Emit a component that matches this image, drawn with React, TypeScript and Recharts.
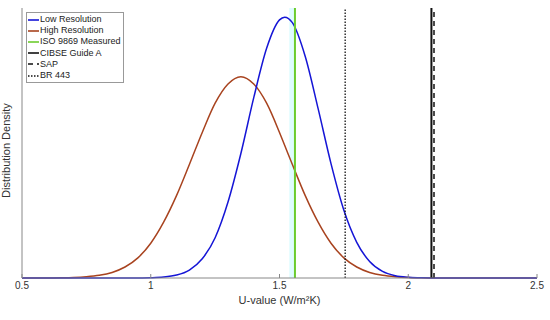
import { LineChart, Line, XAxis, YAxis, ReferenceLine, ReferenceArea } from "recharts"

// U-value sample points (W/m2K)
const uValues = [
  0.5, 0.55, 0.6, 0.65, 0.7, 0.75, 0.8, 0.85, 0.9, 0.95, 1.0, 1.05, 1.1, 1.15, 1.2, 1.25, 1.3, 1.35, 1.4,
  1.45, 1.5, 1.52, 1.55, 1.6, 1.65, 1.7, 1.75, 1.8, 1.85, 1.9, 1.95, 2.0, 2.05, 2.1, 2.15, 2.2, 2.25, 2.3, 2.35,
  2.4, 2.45, 2.5,
]
const lowRes = [
  0, 0, 0, 0, 0, 0, 0, 0, 0.0002, 0.0008, 0.003, 0.01, 0.032, 0.087, 0.21, 0.44, 0.83, 1.36, 1.97, 2.51,
  2.82, 2.85, 2.79, 2.42, 1.85, 1.25, 0.74, 0.39, 0.18, 0.072, 0.025, 0.008, 0.002, 0.0005, 0, 0, 0, 0, 0, 0, 0,
  0,
]
const highRes = [
  0, 0.0002, 0.0007, 0.002, 0.005, 0.013, 0.029, 0.061, 0.12, 0.22, 0.38, 0.61, 0.9, 1.24, 1.59, 1.91, 2.12,
  2.2, 2.12, 1.91, 1.59, 1.45, 1.24, 0.9, 0.61, 0.38, 0.22, 0.12, 0.061, 0.029, 0.013, 0.005, 0.002, 0.0007,
  0.0002, 0, 0, 0, 0, 0, 0, 0,
]
const xTicks = [0.5, 1, 1.5, 2, 2.5]

const isoMeasured = 1.56
const br443 = 1.755
const cibse = 2.09
const sap = 2.1

const legendItems = [
  { name: "Low Resolution", color: "#1515d6", dash: "" },
  { name: "High Resolution", color: "#a8431f", dash: "" },
  { name: "ISO 9869 Measured", color: "#6ccc2e", dash: "" },
  { name: "CIBSE Guide A", color: "#111", dash: "" },
  { name: "SAP", color: "#111", dash: "5 4" },
  { name: "BR 443", color: "#111", dash: "1.5 1.5" },
]

const data = uValues.map((u, i) => ({ u, low: lowRes[i], high: highRes[i] }))

const font = "'Liberation Sans', Arial, sans-serif"

export default function App() {
  return (
    <div style={{ position: "absolute", left: 0, top: 0, width: 550, height: 320, background: "#fff", fontFamily: font }}>
      <LineChart width={550} height={320} data={data} margin={{ top: 8, right: 13, left: 0, bottom: 4 }}>
        <XAxis
          dataKey="u"
          type="number"
          domain={[0.5, 2.5]}
          ticks={xTicks}
          tickFormatter={(v) => String(v)}
          stroke="#888"
          tick={{ fill: "#333", fontSize: 10, fontFamily: font }}
          tickSize={-4}
          tickMargin={8}
          height={38}
          label={{ value: "U-value (W/m²K)", position: "insideBottom", offset: 12, fill: "#333", fontSize: 11, fontFamily: font }}
        />
        <XAxis
          xAxisId="top"
          orientation="top"
          type="number"
          domain={[0.5, 2.5]}
          ticks={xTicks}
          tick={() => <g />}
          tickSize={-4}
          stroke="#888"
          height={0}
        />
        <YAxis
          type="number"
          domain={[0, 2.95]}
          tick={false}
          tickLine={false}
          stroke="#888"
          width={22}
          label={{ value: "Distribution Density", angle: -90, position: "insideLeft", offset: 6, dy: 55, fill: "#333", fontSize: 11, fontFamily: font }}
        />
        <YAxis yAxisId="right" orientation="right" tick={false} tickLine={false} stroke="#888" width={0} />
        <ReferenceArea x1={1.538} x2={1.556} fill="#dffcff" fillOpacity={1} stroke="none" />
        <Line dataKey="high" type="monotone" stroke="#a8431f" strokeWidth={1.5} dot={false} isAnimationActive={false} />
        <Line dataKey="low" type="monotone" stroke="#1515d6" strokeWidth={1.5} dot={false} isAnimationActive={false} />
        <ReferenceLine x={isoMeasured} stroke="#6ccc2e" strokeWidth={2} />
        <ReferenceLine x={br443} stroke="#111" strokeWidth={1.3} strokeDasharray="1.5 1.5" />
        <ReferenceLine x={cibse} stroke="#111" strokeWidth={2} />
        <ReferenceLine x={sap} stroke="#111" strokeWidth={1.5} strokeDasharray="5 4" />
      </LineChart>
      <div
        style={{
          position: "absolute",
          left: 26,
          top: 12,
          border: "1px solid #999",
          background: "#fff",
          padding: "1px 2px 1px 0",
          fontSize: 9,
          color: "#222",
          lineHeight: "11.2px",
          whiteSpace: "nowrap",
        }}
      >
        {legendItems.map((it) => (
          <div key={it.name} style={{ display: "flex", alignItems: "center" }}>
            <svg width={11} height={8} style={{ marginLeft: 1, marginRight: 1 }}>
              <line x1={0} y1={4} x2={11} y2={4} stroke={it.color} strokeWidth={1.6} strokeDasharray={it.dash || undefined} />
            </svg>
            <span>{it.name}</span>
          </div>
        ))}
      </div>
    </div>
  )
}
